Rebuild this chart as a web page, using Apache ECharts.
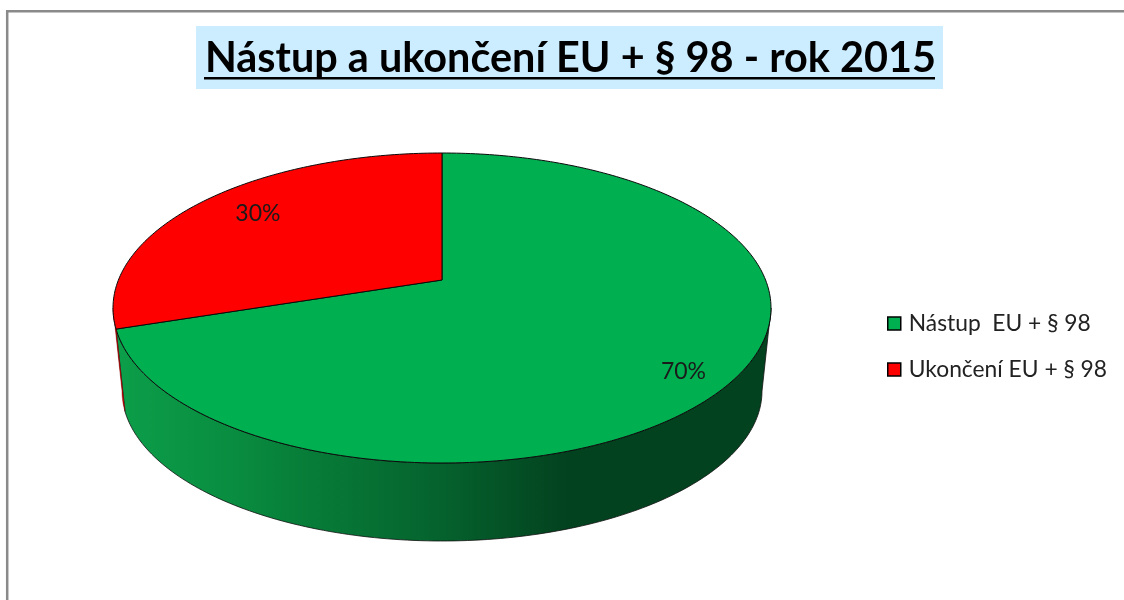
<!DOCTYPE html>
<html>
<head>
<meta charset="utf-8">
<style>html,body{margin:0;padding:0;background:#fff}#c{width:1124px;height:600px}</style>
<script src="https://cdn.jsdelivr.net/npm/echarts@6/dist/echarts.min.js"></script>
</head>
<body>
<div id="c"></div>
<script>
// ---- data ----
const titleText = 'Nástup a ukončení EU + § 98 - rok 2015';
const categories = ['Nástup  EU + § 98', 'Ukončení EU + § 98'];
const values = [70, 30];
const percentLabels = ['70%', '30%'];

// ---- style ----
const faceColors = ['#00B050', '#FF0000'];
const FONT = 'Lato, "Noto Sans", sans-serif';
const geom = { cx: 442, apexY: 280, topY: 153, botY: 463, halfW: 329, sideY: 391, sideHalfW: 320, sideHalfH: 150 };
const labelAnchor = [{ r: 0.84, dy: 10 }, { r: 0.76, dy: -4 }];
const greenSide = [
  [0, '#0C9F4A'], [0.18, '#098D40'], [0.3, '#077C38'], [0.5, '#05622D'], [0.69, '#03421F'], [1, '#03421F']
];
const redSide = [[0, '#D80000'], [1, '#D80000']];
const sideStops = [greenSide, redSide];
const sideOutline = [
  { stroke: '#111', lineWidth: 0.8, lineJoin: 'round' },
  { stroke: '#700000', lineWidth: 0.4, lineJoin: 'round' }
];
const faceOutline = { stroke: '#0b0b0b', lineWidth: 1, lineJoin: 'round' };

// ---- perspective projection of the pie disc (angle clockwise from 12 o'clock, in degrees) ----
const midY = (geom.topY + geom.botY) / 2;
const persp = (geom.topY + geom.botY - 2 * geom.apexY) / (geom.botY - geom.topY);
const b = geom.topY * (1 + persp) - geom.apexY;
const k = geom.halfW * Math.sqrt(1 - persp * persp);
function project(deg, r) {
  const t = deg * Math.PI / 180;
  const X = r * Math.sin(t), Y = r * Math.cos(t);
  const w = 1 + persp * Y;
  return [geom.cx + k * X / w, (geom.apexY + b * Y) / w];
}
function lower(p) {
  return [
    geom.cx + (p[0] - geom.cx) * geom.sideHalfW / geom.halfW,
    geom.sideY + (p[1] - midY) * geom.sideHalfH / ((geom.botY - geom.topY) / 2)
  ];
}
const frontStart = Math.acos(-persp) * 180 / Math.PI;
const frontEnd = 360 - frontStart;
const total = values.reduce((s, v) => s + v, 0);

function sliceRange(i) {
  let a = 0;
  for (let j = 0; j < i; j++) a += values[j] / total * 360;
  return [a, a + values[i] / total * 360];
}
function arc(a0, a1) {
  const pts = [];
  const n = Math.max(2, Math.ceil(Math.abs(a1 - a0)));
  for (let i = 0; i <= n; i++) pts.push(project(a0 + (a1 - a0) * i / n, 1));
  return pts;
}

function renderSlice(i) {
  return function () {
    const [a0, a1] = sliceRange(i);
    const children = [];
    const s0 = Math.max(a0, frontStart), s1 = Math.min(a1, frontEnd);
    if (s1 > s0) {
      const up = arc(s0, s1);
      const down = up.map(lower).reverse();
      children.push({
        type: 'polygon',
        shape: { points: up.concat(down) },
        style: Object.assign({
          fill: {
            type: 'linear', global: true,
            x: geom.cx - geom.halfW, y: 0, x2: geom.cx + geom.halfW, y2: 0,
            colorStops: sideStops[i].map(s => ({ offset: s[0], color: s[1] }))
          }
        }, sideOutline[i])
      });
    }
    const face = [[geom.cx, geom.apexY]].concat(arc(a0, a1));
    children.push({
      type: 'polygon',
      shape: { points: face },
      style: Object.assign({ fill: faceColors[i] }, faceOutline)
    });
    const mid = (a0 + a1) / 2;
    const at = project(mid, labelAnchor[i].r);
    children.push({
      type: 'text',
      style: {
        x: at[0], y: at[1] + labelAnchor[i].dy,
        text: percentLabels[i],
        font: '23px ' + FONT,
        fill: '#1a1a1a',
        align: 'center', verticalAlign: 'middle'
      }
    });
    return { type: 'group', children };
  };
}

const chart = echarts.init(document.getElementById('c'), null, { renderer: 'canvas' });
chart.setOption({
  animation: false,
  backgroundColor: '#fff',
  title: {
    text: titleText,
    left: 205, top: 38, padding: 0,
    textStyle: { fontFamily: FONT, fontSize: 41.4, fontWeight: 'bold', color: '#000' }
  },
  legend: {
    orient: 'vertical', left: 887, top: 312,
    itemWidth: 13, itemHeight: 13, itemGap: 23, padding: 0,
    data: categories,
    icon: 'rect',
    itemStyle: { borderColor: '#000', borderWidth: 1.5 },
    textStyle: { fontFamily: FONT, fontSize: 22.8, lineHeight: 20, color: '#222', padding: [0, 0, 0, 3] },
    selectedMode: false
  },
  graphic: [
    { type: 'polyline', z: 0, silent: true,
      shape: { points: [[7.2, 600], [7.2, 11.2], [1124, 11.2]] },
      style: { fill: null, stroke: '#8a8a8a', lineWidth: 2.5 } },
    { type: 'rect', z: 0, silent: true,
      shape: { x: 196, y: 26, width: 747, height: 63 },
      style: { fill: '#CCECFF' } },
    { type: 'rect', z: 10, silent: true,
      shape: { x: 204, y: 77, width: 731, height: 2.4 },
      style: { fill: '#000' } }
  ],
  series: categories.map((name, i) => ({
    type: 'custom',
    name,
    coordinateSystem: 'none',
    itemStyle: { color: faceColors[i] },
    silent: true,
    data: [values[i]],
    renderItem: renderSlice(i)
  }))
});
</script>
</body>
</html>
